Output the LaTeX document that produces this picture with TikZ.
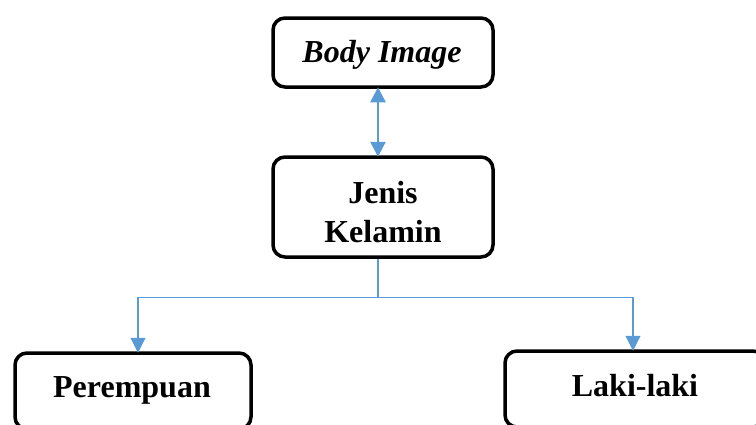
\documentclass[tikz,border=0pt]{standalone}
\usepackage{fontspec}
\setmainfont{Liberation Serif}
\usetikzlibrary{arrows.meta}
\definecolor{arrowblue}{HTML}{5B9BD5}
\tikzset{
  box/.style={draw=black, line width=3.5pt, rounded corners=12pt, fill=white, inner sep=0pt},
  lbl/.style={font=\fontsize{32}{39}\selectfont\bfseries, align=center, inner sep=0pt},
  dbl/.style={draw=arrowblue, line width=2.6pt, {Triangle[width=15pt,length=15pt]}-{Triangle[width=15pt,length=15pt]}},
  conn/.style={draw=arrowblue, line width=1.1pt, -{Triangle[width=15pt,length=15pt]}}
}
\begin{document}
\begin{tikzpicture}[x=1pt,y=-1pt]
\useasboundingbox (0,0) rectangle (756,424);
\clip (0,0) rectangle (756,424);
\node[box, minimum width=220pt, minimum height=69pt] (bi) at (383,52.5) {};
\node[box, minimum width=220pt, minimum height=100pt] (jk) at (383,207) {};
\node[box, minimum width=236pt, minimum height=76pt] (pr) at (133,391) {};
\node[box, minimum width=260pt, minimum height=76pt] (ll) at (635,389) {};
\node[lbl, anchor=base] (tbi) at (382,62) {\itshape Body Image};
\node[lbl, anchor=base] (tjk) at (383,242) {Jenis\\Kelamin};
\node[lbl, anchor=base] (tpr) at (132,397) {Perempuan};
\node[lbl, anchor=base] (tll) at (635,396) {Laki-laki};
\draw[dbl] ([xshift=-5pt,yshift=1.5pt]bi.south) -- ([xshift=-5pt,yshift=-1.5pt]jk.north);
\draw[conn] ([xshift=-5pt]jk.south) -- ++(0,39) coordinate (split) -| ([xshift=5pt,yshift=-1.5pt]pr.north);
\draw[conn] (split) -| ([xshift=-2pt,yshift=-1.5pt]ll.north);
\end{tikzpicture}
\end{document}
